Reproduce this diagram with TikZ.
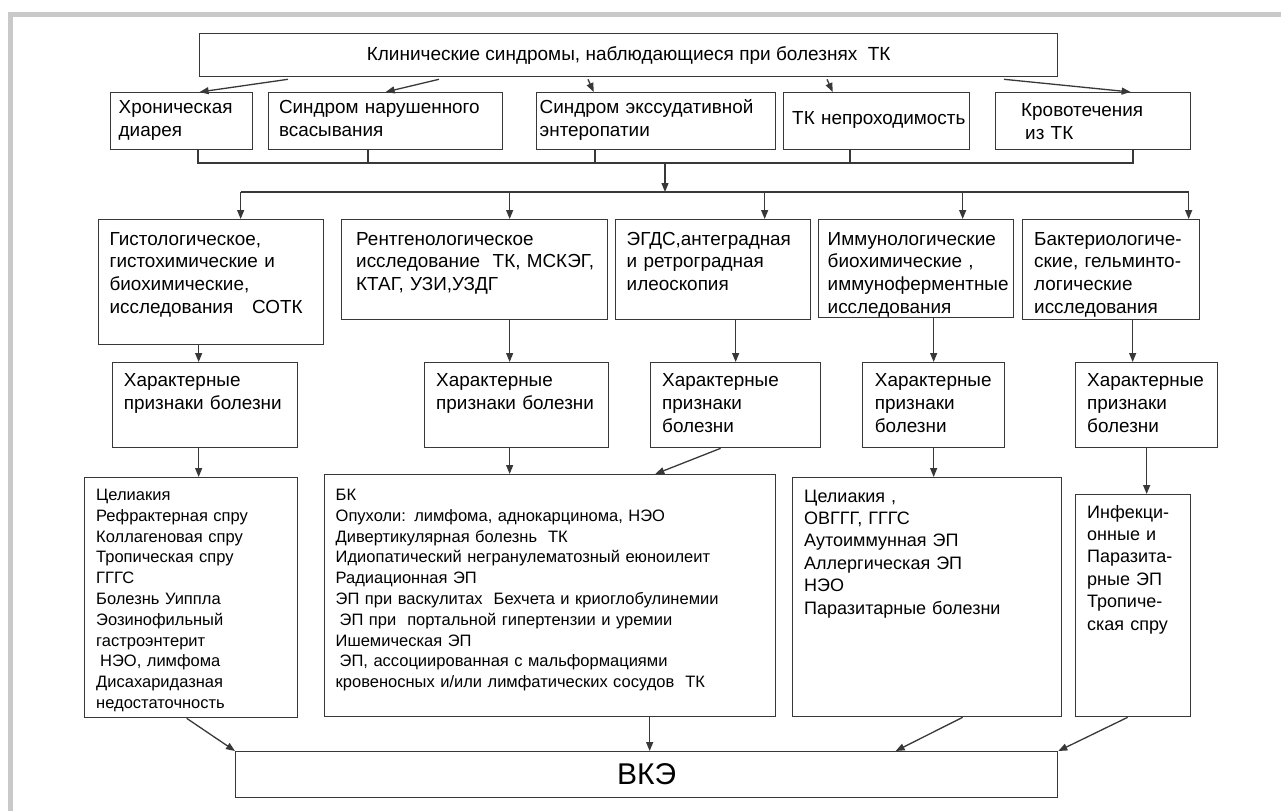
\documentclass[tikz,border=0pt]{standalone}
\usepackage{fontspec}
\setmainfont{Liberation Sans}
\usetikzlibrary{positioning}
\usetikzlibrary{calc}
\usetikzlibrary{arrows.meta}
\definecolor{frame}{rgb}{0.79,0.79,0.79}
\definecolor{ink}{rgb}{0.22,0.22,0.22}

\begin{document}
\begin{tikzpicture}
    [x=1pt, y=-1pt,
    >={Triangle[length=9pt, width=7pt]},
    box/.style={draw=ink, line width=1.3pt, anchor=north west, inner sep=0pt},
    lbl/.style={anchor=north west, text width=440pt, align=left, inner sep=0pt, execute at begin node=\strut},
    mid/.style={lbl, font=\fontsize{18.9}{22.6}\selectfont},
    small/.style={lbl, font=\fontsize{16.5}{20.8}\selectfont},
    list/.style={lbl, font=\fontsize{18}{22.4}\selectfont},
    arr/.style={->, draw=ink, line width=1.3pt},
    bus/.style={draw=ink, line width=2pt}]
    \useasboundingbox (0,0) rectangle (1281,811);
    \draw[draw=frame, line width=5pt] (10,811) -- (10,14) -- (1281,14);
    % syndromes
    \node[box, minimum width=858, minimum height=43, font=\fontsize{19}{22}\selectfont] (top) at (199,33) {Клинические синдромы, наблюдающиеся при болезнях~~ТК};
    \node[box, minimum width=142, minimum height=57, label={[mid, xshift=8.5pt, yshift=-5.7pt]north west:{Хроническая\\диарея}}] (chron) at (110,92) {};
    \node[box, minimum width=234, minimum height=57, label={[mid, xshift=10.8pt, yshift=-5.7pt]north west:{Синдром нарушенного\\всасывания}}] (malabs) at (268,92) {};
    \node[box, minimum width=239, minimum height=57, label={[mid, xshift=3.5pt, yshift=-5.7pt]north west:{Синдром экссудативной\\энтеропатии}}] (exud) at (536,92) {};
    \node[box, minimum width=186, minimum height=57, label={[mid, xshift=9pt, yshift=-16.7pt]north west:{ТК непроходимость}}] (obstr) at (783,92) {};
    \node[box, minimum width=195, minimum height=57, label={[mid, xshift=26pt, yshift=-8.7pt]north west:{Кровотечения\\\hspace*{4pt}из ТК}}] (bleed) at (995,92) {};
    % methods
    \node[box, minimum width=225, minimum height=125, label={[mid, xshift=11.4pt, yshift=-10.2pt]north west:{Гистологическое,\\гистохимические и\\биохимические,\\исследования~~~СОТК}}] (hist) at (98,219) {};
    \node[box, minimum width=266, minimum height=100, label={[mid, xshift=15pt, yshift=-10.2pt]north west:{Рентгенологическое\\исследование~~ТК, МСКЭГ,\\КТАГ, УЗИ,УЗДГ}}] (xray) at (341,219) {};
    \node[box, minimum width=195, minimum height=100, label={[mid, xshift=11.5pt, yshift=-10.2pt]north west:{ЭГДС,антеградная\\и ретроградная\\илеоскопия}}] (endo) at (615,219) {};
    \node[box, minimum width=195, minimum height=98, label={[mid, xshift=9.5pt, yshift=-10.2pt]north west:{Иммунологические\\биохимические ,\\иммуноферментные\\исследования}}] (immun) at (818,219) {};
    \node[box, minimum width=177, minimum height=100, label={[mid, xshift=12pt, yshift=-10.2pt]north west:{Бактериологиче-\\ские, гельминто-\\логические\\исследования}}] (bact) at (1022,219) {};
    % signs
    \node[box, minimum width=185, minimum height=85, label={[mid, xshift=11.7pt, yshift=-8.8pt]north west:{Характерные\\признаки болезни}}] (histsign) at (112,362) {};
    \node[box, minimum width=184, minimum height=85, label={[mid, xshift=12pt, yshift=-8.8pt]north west:{Характерные\\признаки болезни}}] (xraysign) at (424,362) {};
    \node[box, minimum width=170, minimum height=85, label={[mid, xshift=12pt, yshift=-8.8pt]north west:{Характерные\\признаки\\болезни}}] (endosign) at (650,362) {};
    \node[box, minimum width=142, minimum height=85, label={[mid, xshift=12.7pt, yshift=-8.8pt]north west:{Характерные\\признаки\\болезни}}] (immunsign) at (862,362) {};
    \node[box, minimum width=142, minimum height=85, label={[mid, xshift=12pt, yshift=-8.8pt]north west:{Характерные\\признаки\\болезни}}] (bactsign) at (1075,362) {};
    % diseases
    \node[box, minimum width=213, minimum height=240, label={[small, xshift=12pt, yshift=-8.7pt]north west:{Целиакия\\Рефрактерная спру\\Коллагеновая спру\\Тропическая спру\\ГГГС\\Болезнь Уиппла\\Эозинофильный\\гастроэнтерит\\\hspace*{4pt}НЭО, лимфома\\Дисахаридазная\\недостаточность}}] (histdis) at (84,477) {};
    \node[box, minimum width=451, minimum height=242, label={[small, xshift=11.5pt, yshift=-11.7pt]north west:{БК\\Опухоли: лимфома, аднокарцинома, НЭО\\Дивертикулярная болезнь~~ТК\\Идиопатический негранулематозный еюноилеит\\Радиационная ЭП\\ЭП при васкулитах~~Бехчета и криоглобулинемии\\\hspace*{4pt}ЭП при~~портальной гипертензии и уремии\\Ишемическая ЭП\\\hspace*{4pt}ЭП, ассоциированная с мальформациями\\кровеносных и/или лимфатических сосудов~~ТК}}] (xraydis) at (324,474) {};
    \node[box, minimum width=269, minimum height=239, label={[list, xshift=12pt, yshift=-9.3pt]north west:{Целиакия ,\\ОВГГГ, ГГГС\\Аутоиммунная ЭП\\Аллергическая ЭП\\НЭО\\Паразитарные болезни}}] (immundis) at (792,477) {};
    \node[box, minimum width=115, minimum height=222, label={[list, xshift=12pt, yshift=-8.3pt]north west:{Инфекци-\\онные и\\Паразита-\\рные ЭП\\Тропиче-\\ская спру}}] (bactdis) at (1075,494) {};
    \node[box, minimum width=822, minimum height=46, font=\fontsize{30}{36}\selectfont] (vke) at (235,751) {ВКЭ};
    % connectors
    \draw[arr] ([xshift=89pt, yshift=-2pt]top.south west) -- ([xshift=18pt]chron.north);
    \draw[arr] ([xshift=240pt, yshift=-2pt]top.south west) -- (malabs.north);
    \draw[arr] ([xshift=389pt, yshift=-2pt]top.south west) -- ([xshift=-62.5pt]exud.north);
    \draw[arr] ([xshift=628pt, yshift=-2pt]top.south west) -- ([xshift=-44pt]obstr.north);
    \draw[arr] ([xshift=805pt, yshift=-2pt]top.south west) -- ([xshift=37.5pt]bleed.north);
    \coordinate (join) at (665,163);
    \coordinate (split) at (665,192);
    \draw[bus] ([xshift=16pt]chron.south) |- (join) -| ([xshift=39.5pt]bleed.south);
    \draw[bus] ([xshift=-18pt]malabs.south) -- ([xshift=-18pt]malabs.south |- join);
    \draw[bus] ([xshift=-61.5pt]exud.south) -- ([xshift=-61.5pt]exud.south |- join);
    \draw[bus] ([xshift=-27pt]obstr.south) -- ([xshift=-27pt]obstr.south |- join);
    \draw[arr] (join) -- (split);
    \draw[bus] ([xshift=29.5pt]hist.north |- split) -- ([xshift=77.5pt]bact.north |- split);
    \draw[arr] ([xshift=29.5pt]hist.north |- split) -- ([xshift=29.5pt]hist.north);
    \draw[arr] ([xshift=35pt]xray.north |- split) -- ([xshift=35pt]xray.north);
    \draw[arr] ([xshift=51.5pt]endo.north |- split) -- ([xshift=51.5pt]endo.north);
    \draw[arr] ([xshift=46.5pt]immun.north |- split) -- ([xshift=46.5pt]immun.north);
    \draw[arr] ([xshift=77.5pt]bact.north |- split) -- ([xshift=77.5pt]bact.north);
    \draw[arr] ([xshift=-6.5pt]histsign.north |- hist.south) -- ([xshift=-6.5pt]histsign.north);
    \draw[arr] ([xshift=-7pt]xraysign.north |- xray.south) -- ([xshift=-7pt]xraysign.north);
    \draw[arr] (endosign.north |- endo.south) -- (endosign.north);
    \draw[arr] (immunsign.north |- immun.south) -- (immunsign.north);
    \draw[arr] ([xshift=-14pt]bactsign.north |- bact.south) -- ([xshift=-14pt]bactsign.north);
    \draw[arr] ([xshift=-6.5pt]histsign.south) -- ([xshift=-6.5pt]histsign.south |- histdis.north);
    \draw[arr] ([xshift=-7pt]xraysign.south) -- ([xshift=-7pt]xraysign.south |- xraydis.north);
    \draw[arr] ([xshift=-15pt]endosign.south) -- ([xshift=-121pt]xraydis.north east);
    \draw[arr] (immunsign.south) -- (immunsign.south |- immundis.north);
    \draw[arr] (bactsign.south) -- (bactsign.south |- bactdis.north);
    \draw[arr] ([xshift=-4.5pt]histdis.south) -- (vke.north west);
    \draw[arr] ([xshift=99.5pt]xraydis.south) -- ([xshift=99.5pt]xraydis.south |- vke.north);
    \draw[arr] ([xshift=35.5pt]immundis.south) -- ([xshift=249pt]vke.north);
    \draw[arr] ([xshift=-5.5pt]bactdis.south) -- (vke.north east);
\end{tikzpicture}
\end{document}
